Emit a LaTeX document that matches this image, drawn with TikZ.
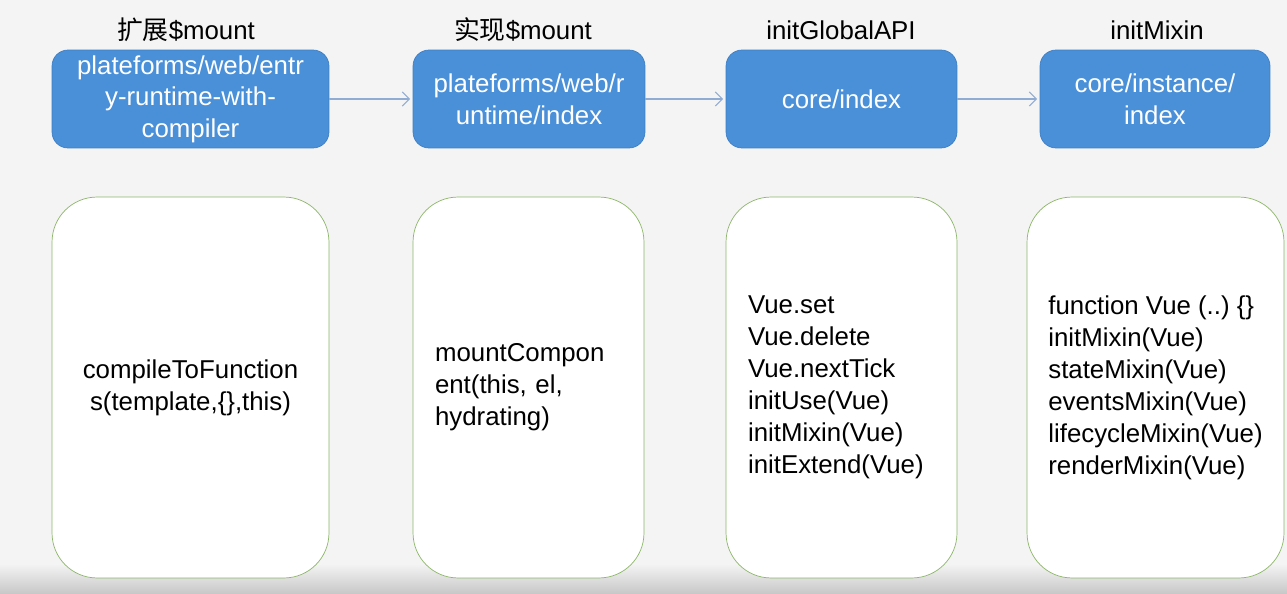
\documentclass[tikz,border=0pt]{standalone}
\usepackage{fontspec}
\setmainfont{Liberation Sans}
\newfontfamily\cjk{Noto Sans CJK SC}
\usepackage{tikz}
\usetikzlibrary{arrows.meta}

\definecolor{boxblue}{RGB}{74,144,217}
\definecolor{boxedge}{RGB}{62,126,196}
\definecolor{pagegray}{RGB}{244,244,244}
\definecolor{linegreen}{RGB}{140,182,105}
\definecolor{arrowgray}{RGB}{145,172,210}

\begin{document}
\begin{tikzpicture}[x=0.02cm,y=-0.02cm]
 % Box style
\tikzset{
    txt/.style={font=\fontsize{14.7}{18}\selectfont},
    title/.style={txt},
    bluebox/.style={txt,rectangle,rounded corners=0.32cm,fill=boxblue,draw=boxedge,text=white,align=center,minimum height=1.96cm,inner sep=0pt},
    codebox/.style={rectangle,rounded corners=0.9cm,fill=white,draw=linegreen,minimum height=7.62cm,inner sep=0pt,font=\fontsize{14.7}{18.2}\selectfont},
    link/.style={draw=arrowgray,line width=0.6pt,-{Straight Barb[length=4pt,width=8pt]},shorten >=1.5pt}
}

% Background
\useasboundingbox (0,0) rectangle (1287,594);
\fill[pagegray] (0,0) rectangle (1287,594);
\shade[top color=pagegray,bottom color=black!22] (0,564) rectangle (1287,594);

% Titles
\node[title](T1) at (186,30){{\cjk 扩展}\$mount};
\node[title](T2) at (523,30){{\cjk 实现}\$mount};
\node[title](T3) at (841,30){initGlobalAPI};
\node[title](T4) at (1157,30){initMixin};

% Source files
\node[bluebox,minimum width=5.54cm](entry) at (190.5,99){plateforms/web/entr\\y-runtime-with-\\compiler};
\node[bluebox,minimum width=4.64cm](runtime) at (529,99){plateforms/web/r\\untime/index};
\node[bluebox,minimum width=4.62cm](core) at (841.5,99){core/index};
\node[bluebox,minimum width=4.6cm](instance) at (1155,99){core/instance/\\index};

\draw[link] (entry) -- (runtime);
\draw[link] (runtime) -- (core);
\draw[link] (core) -- (instance);

% Contents
\node[codebox,minimum width=5.54cm,align=center](compile) at (190.5,387.5){compileToFunction\\s(template,\{\},this)};
\node[codebox,minimum width=4.62cm,text width=3.74cm,align=left](mountc) at (528.5,387.5){mountCompon\\ent(this, el,\\hydrating)};
\node[codebox,minimum width=4.62cm,text width=3.74cm,align=left](globalapi) at (841.5,387.5){Vue.set\\Vue.delete\\Vue.nextTick\\initUse(Vue)\\initMixin(Vue)\\initExtend(Vue)};
\node[codebox,minimum width=5.14cm,align=left](mixins) at (1155.5,387.5){function Vue (..)~\{\}\\initMixin(Vue)\\stateMixin(Vue)\\eventsMixin(Vue)\\lifecycleMixin(Vue)\\renderMixin(Vue)};
\end{tikzpicture}
\end{document}
